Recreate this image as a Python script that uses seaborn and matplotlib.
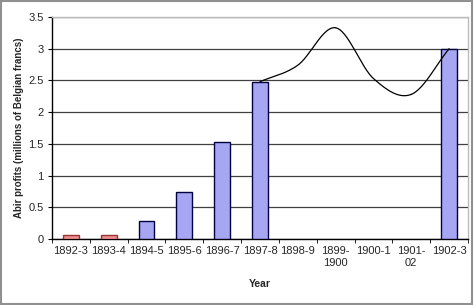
import numpy as np
import pandas as pd
import seaborn as sns
from matplotlib import pyplot as plt

years = ["1892-3", "1893-4", "1894-5", "1895-6", "1896-7", "1897-8", "1898-9",
         "1899-\n1900", "1900-1", "1901-\n02", "1902-3"]
bar_years = ["1892-3", "1893-4", "1894-5", "1895-6", "1896-7", "1897-8", "1902-3"]
bar_profits = [0.07, 0.07, 0.28, 0.74, 1.53, 2.48, 3.0]
bar_colors = ["#FF8080", "#FF8080", "#9999FF", "#9999FF", "#9999FF", "#9999FF", "#9999FF"]
bar_edges = ["#993333", "#993333", "#000040", "#000040", "#000040", "#000040", "#000040"]
curve_years = ["1897-8", "1898-9", "1899-\n1900", "1900-1", "1901-\n02", "1902-3"]
curve_profits = [2.48, 2.74, 3.33, 2.53, 2.28, 3.0]

sns.set_style("white")
plt.rcParams["font.family"] = ["Liberation Sans", "DejaVu Sans"]

fig = plt.figure(figsize=(4.74, 3.05), dpi=100)
ax = fig.add_axes([52 / 474, 66 / 305, 416 / 474, 222 / 305])

df = pd.DataFrame({"year": bar_years, "profit": bar_profits})
sns.barplot(data=df, x="year", y="profit", hue="year", order=years,
            palette=dict(zip(bar_years, bar_colors)), legend=False,
            width=0.42, ax=ax, zorder=3)
for p, ec in zip([b for b in ax.patches if b.get_height() > 0], bar_edges):
    p.set_edgecolor(ec)
    p.set_linewidth(1.0)

# smoothed line through the curve points (catmull-rom, like excel's smoothed line)
xs = np.array([years.index(y) for y in curve_years], dtype=float)
ys = np.array(curve_profits)
px = np.concatenate([[2 * xs[0] - xs[1]], xs, [2 * xs[-1] - xs[-2]]])
py = np.concatenate([[2 * ys[0] - ys[1]], ys, [2 * ys[-1] - ys[-2]]])
sx, sy = [], []
t = np.linspace(0, 1, 30)
for i in range(1, len(px) - 2):
    for arr, out in ((px, sx), (py, sy)):
        p0, p1, p2, p3 = arr[i - 1], arr[i], arr[i + 1], arr[i + 2]
        out.extend(0.5 * ((2 * p1) + (-p0 + p2) * t + (2 * p0 - 5 * p1 + 4 * p2 - p3) * t ** 2
                          + (-p0 + 3 * p1 - 3 * p2 + p3) * t ** 3))
ax.plot(sx, sy, color="black", lw=0.9, zorder=4)

ax.set_xlim(-0.5, len(years) - 0.5)
ax.set_ylim(0, 3.5)
ax.set_yticks(np.arange(0, 3.51, 0.5))
ax.set_yticklabels(["0", "0.5", "1", "1.5", "2", "2.5", "3", "3.5"])
ax.yaxis.grid(True, color="#404040", lw=0.9, zorder=0)
ax.set_axisbelow(True)
ax.set_xticks(range(len(years)))
ax.set_xticklabels(years, fontsize=8)
ax.set_xticks(np.arange(-0.5, len(years), 1), minor=True)
ax.tick_params(axis="x", which="major", length=0, pad=5)
ax.tick_params(axis="x", which="minor", length=3, direction="out", color="black", bottom=True)
ax.tick_params(axis="y", length=3, direction="out", color="black", left=True, labelsize=8, pad=3)
ax.set_xlabel("Year", fontweight="bold", fontsize=7.5, labelpad=8)
ax.set_ylabel("Abir profits (millions of Belgian francs)", fontweight="bold", fontsize=7, labelpad=3)
for s in ["left", "bottom"]:
    ax.spines[s].set_color("black")
    ax.spines[s].set_linewidth(1.0)
for s in ["top", "right"]:
    ax.spines[s].set_color("#BBBBBB")
    ax.spines[s].set_linewidth(1.0)

fig.patches.append(plt.Rectangle((0.003, 0.003), 0.992, 0.994, transform=fig.transFigure,
                                 fill=False, edgecolor="#909090", lw=1.5))
fig.savefig("out.png", dpi=100)
